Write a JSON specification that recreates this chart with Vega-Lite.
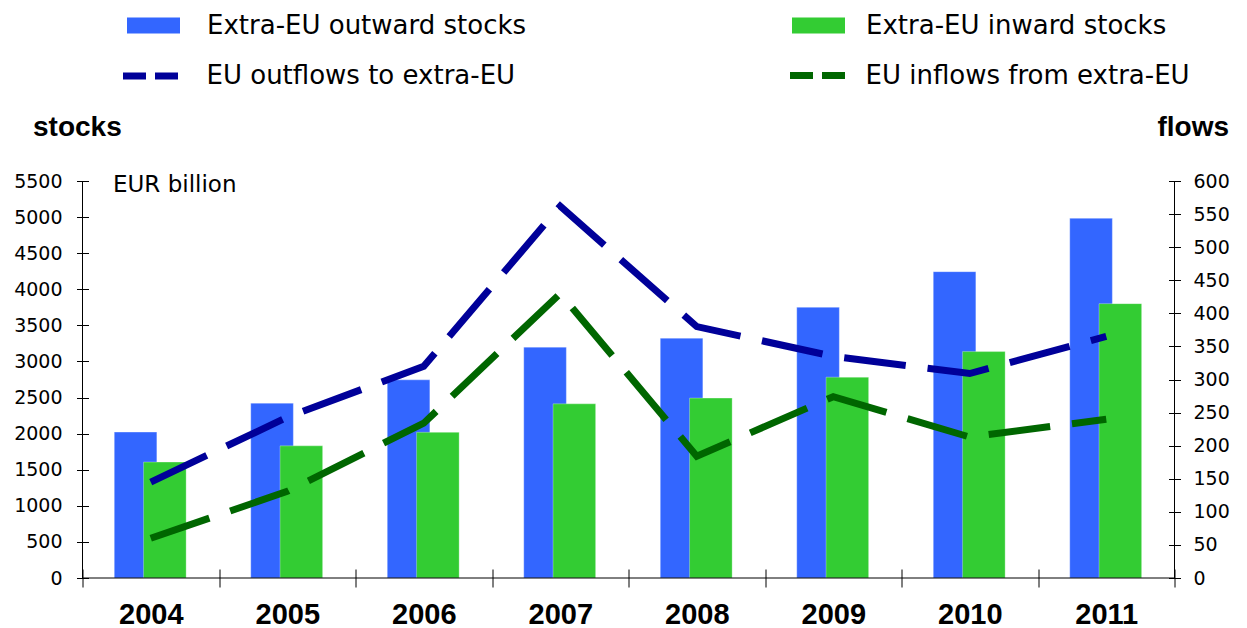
{
  "$schema": "https://vega.github.io/schema/vega-lite/v6.json",
  "width": 1092,
  "height": 397,
  "autosize": {"type": "none"},
  "padding": {"left": 82.5, "top": 181, "right": 72.5, "bottom": 50},
  "background": "#ffffff",
  "config": {
    "view": {"stroke": null},
    "axisBottom": {
      "labelAngle": 0,
      "tickBand": "extent",
      "domain": false,
      "offset": -9,
      "tickSize": 18,
      "tickColor": "#000000",
      "labelFont": "Liberation Sans",
      "labelFontWeight": "bold",
      "labelFontSize": 29,
      "labelColor": "#000000",
      "labelBaseline": "alphabetic",
      "labelPadding": 36
    },
    "axisLeft": {
      "format": "d",
      "labelOverlap": false,
      "grid": false,
      "domain": false,
      "offset": -6,
      "tickSize": 12,
      "tickColor": "#000000",
      "titleAngle": 0,
      "titleAlign": "left",
      "titleBaseline": "middle",
      "titleX": -56,
      "titleY": -54,
      "titleFont": "Liberation Sans",
      "titleFontSize": 28,
      "titleFontWeight": "bold",
      "titleColor": "#000000",
      "labelFont": "DejaVu Sans",
      "labelFontSize": 19,
      "labelColor": "#000000",
      "labelPadding": 14.5
    },
    "axisRight": {
      "format": "d",
      "labelOverlap": false,
      "grid": false,
      "domain": false,
      "offset": -6,
      "tickSize": 12,
      "tickColor": "#000000",
      "titleAngle": 0,
      "titleAlign": "left",
      "titleBaseline": "middle",
      "titleX": -11.5,
      "titleY": -54,
      "titleFont": "Liberation Sans",
      "titleFontSize": 28,
      "titleFontWeight": "bold",
      "titleColor": "#000000",
      "labelFont": "DejaVu Sans",
      "labelFontSize": 19,
      "labelColor": "#000000",
      "labelPadding": 12.5
    },
    "legend": {
      "orient": "none",
      "title": null,
      "padding": 0,
      "labelFont": "DejaVu Sans",
      "labelFontSize": 26,
      "labelColor": "#000000",
      "labelLimit": 600
    }
  },
  "data": {
    "values": [
      {"year": "2004", "series": "Extra-EU outward stocks", "value": 2021},
      {"year": "2005", "series": "Extra-EU outward stocks", "value": 2422},
      {"year": "2006", "series": "Extra-EU outward stocks", "value": 2745},
      {"year": "2007", "series": "Extra-EU outward stocks", "value": 3198},
      {"year": "2008", "series": "Extra-EU outward stocks", "value": 3322},
      {"year": "2009", "series": "Extra-EU outward stocks", "value": 3750},
      {"year": "2010", "series": "Extra-EU outward stocks", "value": 4244},
      {"year": "2011", "series": "Extra-EU outward stocks", "value": 4983},
      {"year": "2004", "series": "Extra-EU inward stocks", "value": 1606},
      {"year": "2005", "series": "Extra-EU inward stocks", "value": 1831},
      {"year": "2006", "series": "Extra-EU inward stocks", "value": 2018},
      {"year": "2007", "series": "Extra-EU inward stocks", "value": 2413},
      {"year": "2008", "series": "Extra-EU inward stocks", "value": 2492},
      {"year": "2009", "series": "Extra-EU inward stocks", "value": 2782},
      {"year": "2010", "series": "Extra-EU inward stocks", "value": 3137},
      {"year": "2011", "series": "Extra-EU inward stocks", "value": 3801},
      {"year": "2004", "series": "EU outflows to extra-EU", "value": 145},
      {"year": "2005", "series": "EU outflows to extra-EU", "value": 243},
      {"year": "2006", "series": "EU outflows to extra-EU", "value": 320},
      {"year": "2007", "series": "EU outflows to extra-EU", "value": 562},
      {"year": "2008", "series": "EU outflows to extra-EU", "value": 380},
      {"year": "2009", "series": "EU outflows to extra-EU", "value": 335},
      {"year": "2010", "series": "EU outflows to extra-EU", "value": 309},
      {"year": "2011", "series": "EU outflows to extra-EU", "value": 365},
      {"year": "2004", "series": "EU inflows from extra-EU", "value": 60},
      {"year": "2005", "series": "EU inflows from extra-EU", "value": 131},
      {"year": "2006", "series": "EU inflows from extra-EU", "value": 234},
      {"year": "2007", "series": "EU inflows from extra-EU", "value": 430},
      {"year": "2008", "series": "EU inflows from extra-EU", "value": 184},
      {"year": "2009", "series": "EU inflows from extra-EU", "value": 274},
      {"year": "2010", "series": "EU inflows from extra-EU", "value": 213},
      {"year": "2011", "series": "EU inflows from extra-EU", "value": 240}
    ]
  },
  "layer": [
    {
      "encoding": {
        "y": {
          "field": "value",
          "type": "quantitative",
          "title": "stocks",
          "scale": {"domain": [0, 5500], "nice": false, "zero": true},
          "axis": {"orient": "left", "values": [0, 500, 1000, 1500, 2000, 2500, 3000, 3500, 4000, 4500, 5000, 5500]}
        }
      },
      "layer": [
        {
          "transform": [{"filter": "datum.series === 'Extra-EU outward stocks'"}],
          "mark": {"type": "bar", "width": {"band": 0.312}, "xOffset": -15.2, "stroke": "#ffffff", "strokeOpacity": 0.3, "strokeWidth": 1},
          "encoding": {
            "x": {"field": "year", "type": "ordinal", "title": null, "scale": {"paddingInner": 0, "paddingOuter": 0}},
            "color": {
              "field": "series",
              "type": "nominal",
              "scale": {"range": ["#3366FF"]},
              "legend": {
                "legendX": 44.5,
                "legendY": -182,
                "symbolType": "M-1,-0.3H1V0.3H-1Z",
                "symbolSize": 2809,
                "symbolStrokeWidth": 0,
                "symbolOpacity": 1,
                "labelOffset": 27
              }
            }
          }
        },
        {
          "transform": [{"filter": "datum.series === 'Extra-EU inward stocks'"}],
          "mark": {"type": "bar", "width": {"band": 0.312}, "xOffset": 14.1, "stroke": "#ffffff", "strokeOpacity": 0.3, "strokeWidth": 1},
          "encoding": {
            "x": {"field": "year", "type": "ordinal", "title": null},
            "color": {
              "field": "series",
              "type": "nominal",
              "scale": {"range": ["#33CC33"]},
              "legend": {
                "legendX": 709.5,
                "legendY": -182,
                "symbolType": "M-1,-0.3H1V0.3H-1Z",
                "symbolSize": 2809,
                "symbolStrokeWidth": 0,
                "symbolOpacity": 1,
                "labelOffset": 21
              }
            }
          }
        },
        {
          "data": {"values": [{"label": "EUR billion", "value": 5500}]},
          "mark": {"type": "text", "align": "left", "baseline": "middle", "dx": -37.75, "dy": 4, "font": "DejaVu Sans", "fontSize": 23, "color": "#000000"},
          "encoding": {
            "x": {"datum": "2004", "type": "ordinal", "title": null},
            "text": {"field": "label"}
          }
        },
        {
          "data": {"values": [{"value": 0}]},
          "mark": {"type": "rule", "color": "#000000", "strokeWidth": 1}
        }
      ],
      "resolve": {"scale": {"color": "independent"}, "legend": {"color": "independent"}}
    },
    {
      "encoding": {
        "y": {
          "field": "value",
          "type": "quantitative",
          "title": "flows",
          "scale": {"domain": [0, 600], "nice": false, "zero": true},
          "axis": {"orient": "right", "values": [0, 50, 100, 150, 200, 250, 300, 350, 400, 450, 500, 550, 600]}
        }
      },
      "layer": [
        {
          "transform": [{"filter": "datum.series === 'EU outflows to extra-EU'"}],
          "mark": {"type": "line", "strokeWidth": 7, "strokeDash": [62, 22], "strokeCap": "butt"},
          "encoding": {
            "x": {"field": "year", "type": "ordinal", "title": null},
            "color": {
              "field": "series",
              "type": "nominal",
              "scale": {"range": ["#000099"]},
              "legend": {
                "legendX": 37,
                "legendY": -136.5,
                "symbolType": "stroke",
                "symbolSize": 3136,
                "symbolStrokeWidth": 7,
                "symbolDash": [23, 9],
                "labelOffset": 24
              }
            }
          }
        },
        {
          "transform": [{"filter": "datum.series === 'EU inflows from extra-EU'"}],
          "mark": {"type": "line", "strokeWidth": 7, "strokeDash": [62, 22], "strokeCap": "butt"},
          "encoding": {
            "x": {"field": "year", "type": "ordinal", "title": null},
            "color": {
              "field": "series",
              "type": "nominal",
              "scale": {"range": ["#006600"]},
              "legend": {
                "legendX": 704,
                "legendY": -136.5,
                "symbolType": "stroke",
                "symbolSize": 3025,
                "symbolStrokeWidth": 7,
                "symbolDash": [23, 9],
                "labelOffset": 17
              }
            }
          }
        }
      ],
      "resolve": {"scale": {"color": "independent"}, "legend": {"color": "independent"}}
    },
    {
      "data": {"values": [{"edge": "left", "year": "2004"}, {"edge": "right", "year": "2011"}]},
      "layer": [
        {
          "transform": [{"filter": "datum.edge === 'left'"}],
          "mark": {"type": "rule", "color": "#000000", "strokeWidth": 1},
          "encoding": {"x": {"field": "year", "type": "ordinal", "bandPosition": 0, "title": null}}
        },
        {
          "transform": [{"filter": "datum.edge === 'right'"}],
          "mark": {"type": "rule", "color": "#000000", "strokeWidth": 1},
          "encoding": {"x": {"field": "year", "type": "ordinal", "bandPosition": 1, "title": null}}
        }
      ]
    }
  ],
  "resolve": {"scale": {"y": "independent", "color": "independent"}, "axis": {"y": "independent"}, "legend": {"color": "independent"}}
}
